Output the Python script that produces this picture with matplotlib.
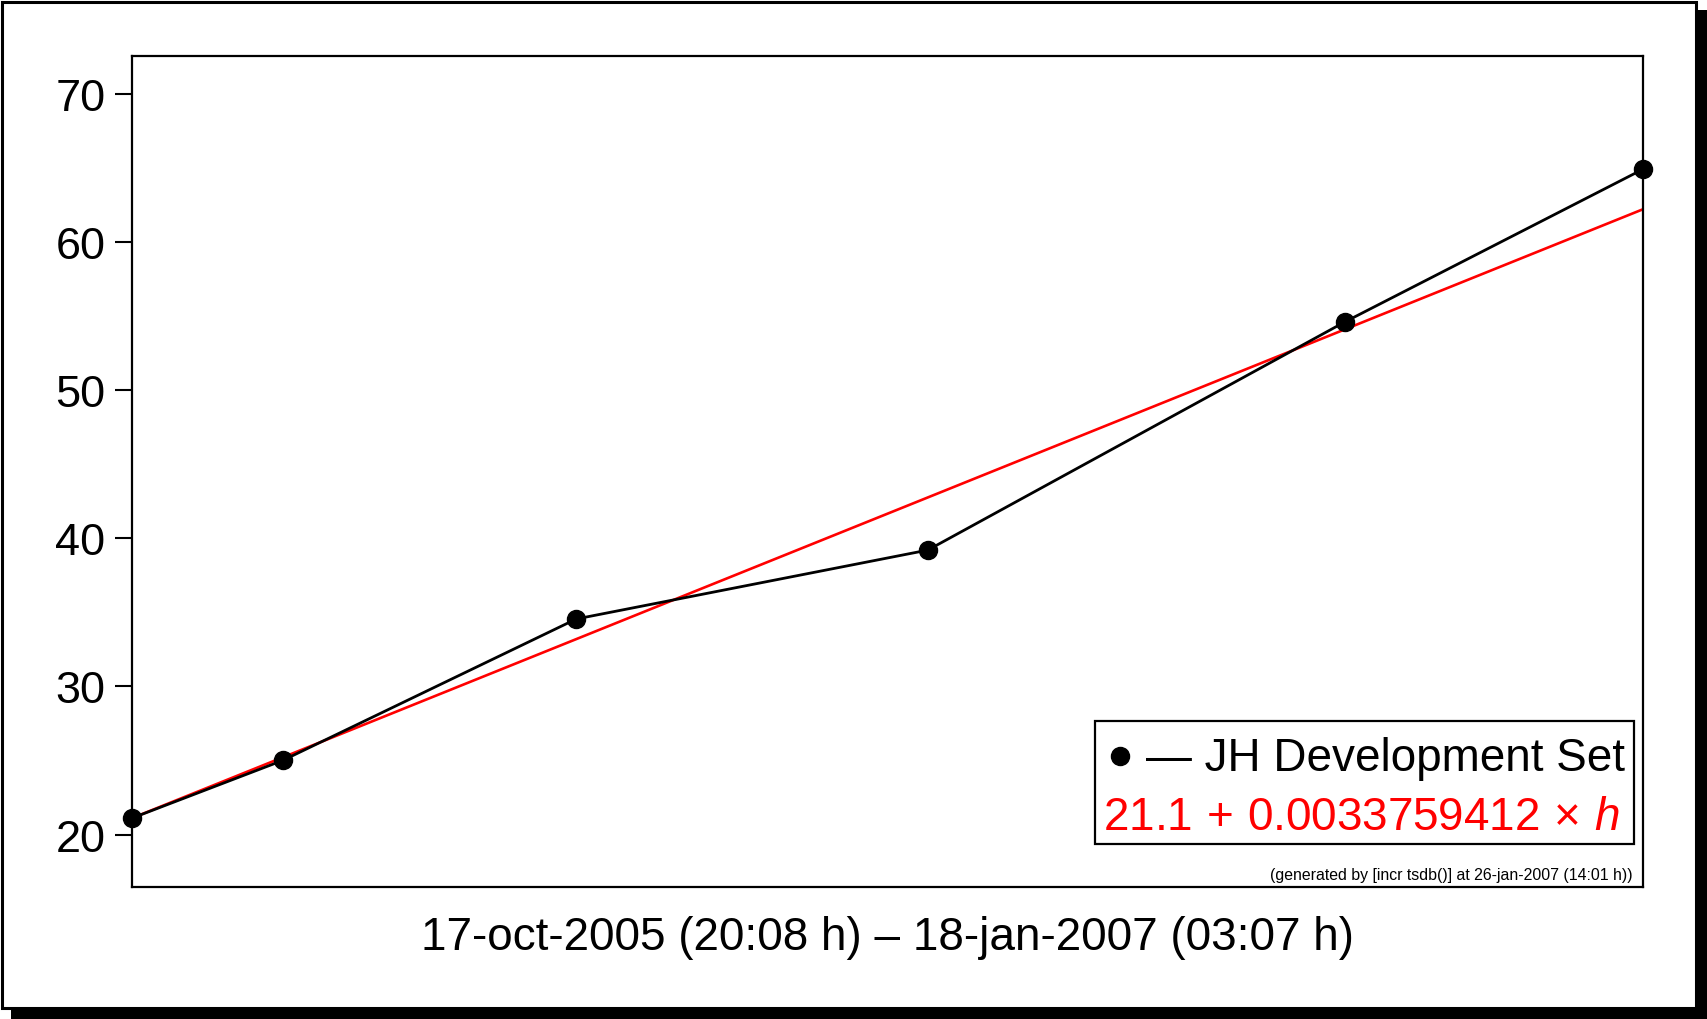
import matplotlib
matplotlib.use("Agg")
import matplotlib.pyplot as plt
from matplotlib.patches import Rectangle

plt.rcParams['font.family'] = ['Liberation Sans', 'DejaVu Sans']
plt.rcParams['mathtext.fontset'] = 'custom'
plt.rcParams['mathtext.rm'] = 'Liberation Sans'
plt.rcParams['mathtext.it'] = 'Liberation Sans:italic'

# data (x: hours since 17-oct-2005 20:08)
hours = [0, 1096, 3229, 5782, 8811, 10975]
values = [21.1, 25.0, 34.55, 39.2, 54.6, 64.9]
fit_hours = [0, 10975]
fit_values = [21.1, 62.2]
yticks = [20, 30, 40, 50, 60, 70]
series_label = "\u2014 JH Development Set"
fit_label = r"$21.1\,+\,0.0033759412\,\times\,h$"
xlabel = "17-oct-2005 (20:08 h) \u2013 18-jan-2007 (03:07 h)"
footer = "(generated by [incr tsdb()] at 26-jan-2007 (14:01 h))"

W, H = 1708, 1020
fig = plt.figure(figsize=(W / 100, H / 100), dpi=100)

def fx(px):
    return px / W

def fy(py):
    return 1 - py / H

# outer frame with shadow
fig.patches.append(Rectangle((fx(11), fy(1020)), fx(1708) - fx(11), fy(11) - fy(1020),
                             transform=fig.transFigure, facecolor='black', edgecolor='none', zorder=0))
fig.patches.append(Rectangle((fx(2), fy(1009)), fx(1696) - fx(2), fy(3) - fy(1009),
                             transform=fig.transFigure, facecolor='white', edgecolor='black',
                             linewidth=2.2, zorder=0.5))

ax = fig.add_axes([fx(131.8), fy(887.8), fx(1642.7) - fx(131.8), fy(56.6) - fy(887.8)])
ax.set_zorder(1)
ax.set_facecolor('white')
ax.plot(fit_hours, fit_values, color='red', linewidth=1.9, zorder=2)
ax.plot(hours, values, color='black', linewidth=2.0, marker='o', markersize=13,
        clip_on=False, zorder=3)
ax.set_xlim(0, 10975)
ax.set_ylim(16.47, 72.58)
ax.set_yticks(yticks)
ax.set_xticks([])
ax.tick_params(axis='y', direction='out', length=12, width=1.5, pad=7, labelsize=32.5)
for s in ax.spines.values():
    s.set_linewidth(1.6)

fig.text(fx(887.2), fy(950), xlabel, ha='center', va='baseline', fontsize=33, zorder=6)

# legend box
fig.patches.append(Rectangle((fx(1095), fy(845)), fx(1634) - fx(1095), fy(722) - fy(845),
                             transform=fig.transFigure, facecolor='white', edgecolor='black',
                             linewidth=1.6, zorder=5))
fig.lines.append(plt.Line2D([fx(1120)], [fy(757)], transform=fig.transFigure, marker='o',
                            markersize=13, color='black', zorder=6))
fig.text(fx(1146), fy(771), series_label, ha='left', va='baseline', fontsize=33, zorder=6)
fig.text(fx(1620), fy(830), fit_label, ha='right', va='baseline', fontsize=33, color='red', zorder=6)

fig.text(fx(1633), fy(880), footer, ha='right', va='baseline', fontsize=11.4, zorder=6)

fig.savefig("out.png", dpi=100)
